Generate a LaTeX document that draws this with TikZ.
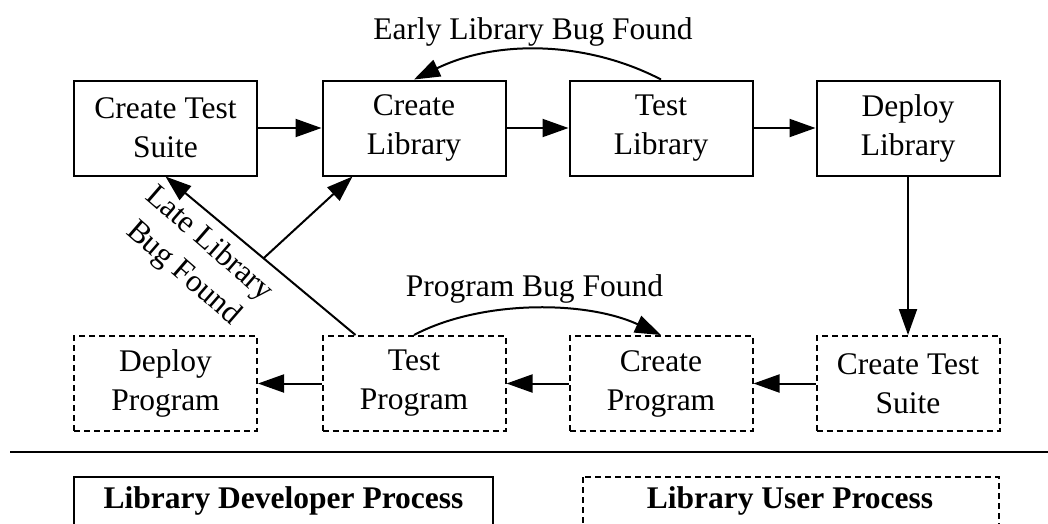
\documentclass[tikz,border=0pt]{standalone}
\usepackage{fontspec}
\setmainfont{Liberation Serif}
\usetikzlibrary{arrows.meta,calc}
\begin{document}
\begin{tikzpicture}[x=1pt,y=-1pt,
  every node/.style={font=\fontsize{31.5}{39}\selectfont},
  stage/.style={draw, line width=2pt, minimum width=183pt, minimum height=95pt,
                inner sep=0pt, align=center},
  userstage/.style={stage, dash pattern=on 6pt off 4pt},
  flow/.style={line width=2pt, -{Triangle[length=26pt,width=18pt]}},
  lbl/.style={anchor=base, inner sep=0pt},
  legendtext/.style={lbl, font=\fontsize{31.5}{39}\selectfont\bfseries}]

% page frame
\path[use as bounding box] (0,0) rectangle (1048,523);
\clip (0,0) rectangle (1048,523);
\fill[white] (0,0) rectangle (1048,523);

% library developer stages
\node[stage] (t1) at (165.5,128) {Create Test\\Suite};
\node[stage] (t2) at (414,128)   {Create\\Library};
\node[stage] (t3) at (661,128)   {Test\\Library};
\node[stage] (t4) at (908,128)   {Deploy\\Library};

% library user stages
\node[userstage] (b1) at (165.5,383.5) {Deploy\\Program};
\node[userstage] (b2) at (414,383.5)   {Test\\Program};
\node[userstage] (b3) at (661,383.5)   {Create\\Program};
\node[userstage] (b4) at (908,383.5)   {Create Test\\Suite};

% main flow
\draw[flow] (t1) -- (t2);
\draw[flow] (t2) -- (t3);
\draw[flow] (t3) -- (t4);
\draw[flow] (t4) -- (b4);
\draw[flow] (b4) -- (b3);
\draw[flow] (b3) -- (b2);
\draw[flow] (b2) -- (b1);

% feedback loops
\draw[flow] (t3.north) .. controls (585,40) and (495,40) .. (t2.north);
\node[lbl] (earlyLbl) at (533,39) {Early Library Bug Found};

\draw[flow] (b2.north) .. controls (480,300) and (585,300) .. (b3.north);
\node[lbl] (progLbl) at (534.5,296) {Program Bug Found};

\coordinate (lateStart) at ($(b2.north west)+(34,0)$);
\draw[flow] (lateStart) -- (t1.south);
\path (lateStart) -- (t1.south) coordinate[pos=0.484] (fork);
\draw[flow] (fork) -- ($(t2.south west)+(31,0)$);
\node[rotate=-41, align=center, inner sep=0pt] (lateLbl) at (196,259) {Late Library\\Bug Found};

% separator
\draw[line width=2.5pt] (10,452) -- (1048,452);

% legend
\draw[line width=2pt] (74,477) rectangle (493,570);
\node[legendtext] (legDev) at (283.5,508) {Library Developer Process};
\draw[line width=2pt, dash pattern=on 6pt off 4pt] (583,477) rectangle (999,570);
\node[legendtext] (legUser) at (790,508) {Library User Process};

\end{tikzpicture}
\end{document}
